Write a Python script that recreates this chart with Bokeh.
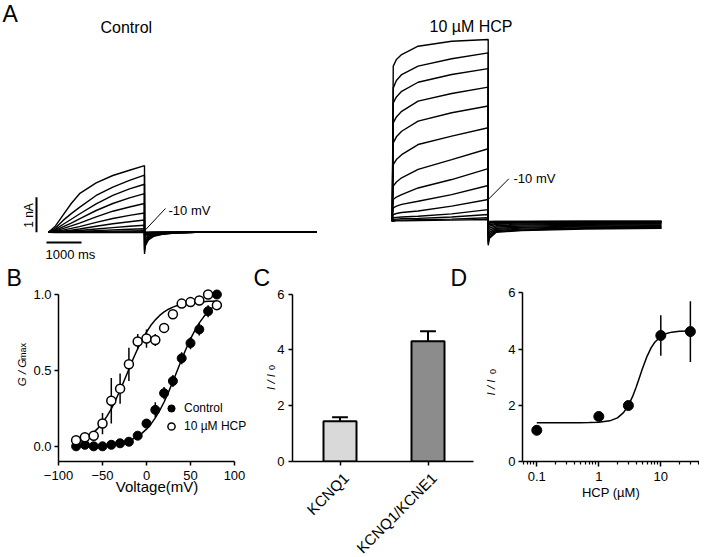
from math import pi
from bokeh.plotting import figure
from bokeh.layouts import column, row
from bokeh.models import Range1d, Label, Legend, LegendItem, FixedTicker, GridBox
from bokeh.core.properties import value
from bokeh.embed import file_html
from bokeh.resources import INLINE

FONT = "Liberation Sans"
O = 1  # page offset of the layout's top-left corner

# ---------------- Panel A : current traces (ms, nA) ----------------
ctrl_t = [0, 200, 410, 650, 886, 1362, 1838, 2314, 2743]
ctrl_traces = [
    [0, 0.18, 0.48, 0.82, 1.10, 1.41, 1.62, 1.77, 1.90],
    [0, 0.12, 0.33, 0.53, 0.71, 1.05, 1.29, 1.48, 1.63],
    [0, 0.08, 0.22, 0.37, 0.52, 0.81, 1.05, 1.24, 1.37],
    [0, 0.05, 0.15, 0.26, 0.38, 0.62, 0.82, 0.98, 1.10],
    [0, 0.03, 0.10, 0.18, 0.26, 0.44, 0.60, 0.72, 0.82],
    [0, 0.02, 0.06, 0.11, 0.16, 0.28, 0.39, 0.48, 0.55],
    [0, 0.01, 0.03, 0.06, 0.09, 0.17, 0.24, 0.30, 0.35],
    [0, 0.005, 0.02, 0.035, 0.05, 0.09, 0.13, 0.17, 0.20],
    [0, 0.0, 0.01, 0.018, 0.025, 0.045, 0.065, 0.085, 0.10],
    [0, 0.0, 0.0, 0.005, 0.01, 0.02, 0.03, 0.035, 0.04],
    [0, 0.0, 0.0, 0.0, 0.0, 0.005, 0.005, 0.01, 0.01],
    [0, -0.01, -0.01, -0.01, -0.01, -0.01, -0.01, -0.01, -0.01],
]
ctrl_tail_t = [0, 20, 110, 260, 510, 860, 1460, 4914]
ctrl_tail_shape = [1.0, 0.65, 0.36, 0.19, 0.10, 0.04, 0.0, 0.0]
ctrl_tail_peak = [0.62, 0.55, 0.48, 0.40, 0.30, 0.20, 0.13, 0.08, 0.04, 0.02, 0.01, 0.0]

hcp_t = [0, 30, 120, 270, 740, 1700, 2743]
hcp_traces = [
    [0, 4.43, 4.62, 4.76, 5.00, 5.14, 5.19],
    [0, 3.81, 4.02, 4.19, 4.43, 4.64, 4.81],
    [0, 3.38, 3.55, 3.71, 3.97, 4.19, 4.36],
    [0, 2.81, 2.98, 3.14, 3.43, 3.65, 3.83],
    [0, 2.24, 2.41, 2.57, 2.86, 3.10, 3.29],
    [0, 1.62, 1.76, 1.90, 2.19, 2.43, 2.67],
    [0, 1.00, 1.12, 1.24, 1.48, 1.76, 2.07],
    [0, 0.62, 0.69, 0.76, 0.95, 1.19, 1.50],
    [0, 0.38, 0.43, 0.48, 0.57, 0.76, 1.02],
    [0, 0.19, 0.22, 0.25, 0.29, 0.43, 0.62],
    [0, 0.10, 0.11, 0.12, 0.14, 0.21, 0.33],
    [0, 0.05, 0.06, 0.07, 0.08, 0.12, 0.19],
    [0, 0.02, 0.03, 0.03, 0.04, 0.06, 0.10],
    [0, 0.0, 0.01, 0.01, 0.02, 0.03, 0.05],
]
hcp_tail_t = [0, 30, 230, 960, 2760, 4951]
hcp_tail_shape = [1.0, 0.72, 0.46, 0.39, 0.32, 0.29]
hcp_tail_peak = [0.69, 0.64, 0.58, 0.51, 0.44, 0.36, 0.28, 0.20, 0.14, 0.08, 0.05, 0.03, 0.02, 0.01]

minus10_ctrl_index = 9
minus10_hcp_index = 9
scale_nA = 1.0
scale_ms = 1000

# ---------------- Panel B : G/Gmax vs voltage ----------------
volt = [-80, -70, -60, -50, -40, -30, -20, -10, 0, 10, 20, 30, 40, 50, 60, 70, 80]
g_ctrl = [0.00, 0.01, 0.00, 0.00, 0.01, 0.02, 0.03, 0.07, 0.15, 0.24, 0.35, 0.43, 0.58, 0.68, 0.77, 0.89, 1.00]
g_ctrl_err = [0.01, 0.01, 0.01, 0.01, 0.01, 0.01, 0.01, 0.01, 0.02, 0.05, 0.04, 0.04, 0.04, 0.04, 0.04, 0.04, 0.01]
g_hcp = [0.04, 0.06, 0.07, 0.15, 0.30, 0.38, 0.54, 0.69, 0.71, 0.70, 0.78, 0.87, 0.94, 0.95, 0.96, 1.00, 0.93]
g_hcp_err = [0.01, 0.02, 0.02, 0.07, 0.15, 0.10, 0.11, 0.05, 0.06, 0.04, 0.03, 0.01, 0.01, 0.01, 0.03, 0.01, 0.01]

fit_ctrl_v = [-80, -75, -70, -65, -60, -55, -50, -45, -40, -35, -30, -25, -20, -15, -10, -5, 0,
              5, 10, 15, 20, 25, 30, 35, 40, 45, 50, 55, 60, 65, 70, 75, 80]
fit_ctrl_g = [0.001, 0.002, 0.002, 0.003, 0.004, 0.005, 0.007, 0.009, 0.012, 0.016, 0.021, 0.028,
              0.038, 0.050, 0.066, 0.087, 0.113, 0.146, 0.187, 0.236, 0.292, 0.357, 0.427, 0.500,
              0.573, 0.643, 0.708, 0.764, 0.813, 0.853, 0.887, 0.914, 0.934]
fit_hcp_v = [-70, -65, -60, -55, -50, -45, -40, -35, -30, -25, -20, -15, -10, -5, 0, 5, 10, 15,
             20, 25, 30, 35, 40, 45, 50, 55, 60, 65, 70, 75, 80]
fit_hcp_g = [0.054, 0.071, 0.092, 0.120, 0.155, 0.197, 0.247, 0.305, 0.369, 0.438, 0.508, 0.578,
             0.643, 0.702, 0.753, 0.797, 0.833, 0.862, 0.885, 0.903, 0.917, 0.927, 0.936, 0.942,
             0.946, 0.949, 0.951, 0.953, 0.955, 0.956, 0.957]

# ---------------- Panel C : bars ----------------
c_labels = ["KCNQ1", "KCNQ1/KCNE1"]
c_vals = [1.44, 4.31]
c_err = [0.15, 0.36]
c_colors = ["#d9d9d9", "#8c8c8c"]

# ---------------- Panel D : concentration response ----------------
d_conc = [0.1, 1, 3, 10, 30]
d_vals = [1.11, 1.60, 1.99, 4.48, 4.62]
d_err = [0.04, 0.05, 0.05, 0.72, 1.08]
fit_d_x = [0.1, 0.2, 0.3, 0.5, 0.7, 1, 1.5, 2, 2.5, 3, 3.5, 4, 4.5, 5, 6, 7, 8, 10, 12, 15, 20, 30]
fit_d_y = [1.38, 1.38, 1.38, 1.381, 1.385, 1.396, 1.446, 1.553, 1.736, 1.99, 2.305, 2.64, 2.97,
           3.27, 3.74, 4.05, 4.24, 4.45, 4.54, 4.60, 4.63, 4.645]

# ---------------- outside-frame texts ----------------
panel_letters = ["B", "C", "D"]
ylab_main = ["G / G", "I / I", "I / I"]
ylab_sub = ["max", "0", "0"]


def style_axes(p, label_size="13px"):
    for ax in list(p.xaxis) + list(p.yaxis):
        ax.axis_line_width = 1.5
        ax.axis_line_color = "black"
        ax.major_tick_line_color = "black"
        ax.major_tick_line_width = 1.5
        ax.major_tick_out = 4
        ax.major_tick_in = 0
        ax.minor_tick_out = 0
        ax.minor_tick_in = 0
        ax.major_label_text_font = FONT
        ax.major_label_text_font_size = label_size
        ax.major_label_text_color = "black"
        ax.major_label_standoff = 3
        ax.axis_label_text_font = FONT
        ax.axis_label_text_font_size = "15px"
        ax.axis_label_text_font_style = "normal"
        ax.axis_label_text_color = "black"
        ax.axis_label_standoff = -5
    for ax in p.xaxis:
        ax.major_label_standoff = 5
    p.grid.visible = False
    p.outline_line_color = None


def lab(p, x, y, text, size, style="normal", angle=0, align="left", baseline="middle"):
    p.add_layout(Label(x=x, y=y, text=text, text_font=FONT, text_font_size=size,
                       text_font_style=style, angle=angle, text_align=align,
                       text_baseline=baseline, text_color="black"))


# ======================= Panel A =======================
PXMS = 0.035      # px per ms
PXNA = 35.0       # px per nA
T0_PAGE = 49.0
BASE_PAGE = 232.7
A_BOT = 266
RIGHT = 700
BOTTOM = 556
BC_SPLIT = 256
CD_SPLIT = 480


def ax_(px):
    return (px - T0_PAGE) / PXMS


def ay_(py):
    return (BASE_PAGE - py) / PXNA


HCP_DT = ax_(392.7)
HCP_DY = ay_(221.7)

pA = figure(width=RIGHT - O, height=A_BOT - O, x_range=Range1d(ax_(O), ax_(RIGHT)),
            y_range=Range1d(ay_(A_BOT), ay_(O)), output_backend="svg",
            toolbar_location=None, x_axis_location=None, y_axis_location=None,
            min_border_left=0, min_border_right=0, min_border_top=0, min_border_bottom=0,
            outline_line_color=None)
pA.grid.visible = False


def build(t_step, traces, tail_t, tail_shape, tail_peaks, t0, y0):
    xs, ys = [], []
    t_end = t_step[-1]
    for tr, pk in zip(traces, tail_peaks):
        xs.append([t0 + t for t in t_step] + [t0 + t_end + t for t in tail_t])
        ys.append([y0 + v for v in tr] + [y0 - pk * s for s in tail_shape])
    return xs, ys


xs, ys = build(ctrl_t, ctrl_traces, ctrl_tail_t, ctrl_tail_shape, ctrl_tail_peak, 0, 0)
pA.multi_line(xs, ys, line_color="black", line_width=1.4)
xs, ys = build(hcp_t, hcp_traces, hcp_tail_t, hcp_tail_shape, hcp_tail_peak, HCP_DT, HCP_DY)
pA.multi_line(xs, ys, line_color="black", line_width=1.4)

sb_x = ax_(37)
sb_y = ay_(243)
pA.segment(x0=[sb_x, ax_(47)], y0=[0, sb_y], x1=[sb_x, ax_(47) + scale_ms], y1=[scale_nA, sb_y],
           line_color="black", line_width=2)

c_end = (ctrl_t[-1], ctrl_traces[minus10_ctrl_index][-1])
h_end = (HCP_DT + hcp_t[-1], HCP_DY + hcp_traces[minus10_hcp_index][-1])
pA.segment(x0=[c_end[0], h_end[0]], y0=[c_end[1], h_end[1]],
           x1=[ax_(166), ax_(509.3)], y1=[ay_(209), ay_(179.3)], line_color="black", line_width=1)

lab(pA, ax_(3), ay_(14), "A", "23px")
lab(pA, ax_(101), ay_(27.5), "Control", "16px")
lab(pA, ax_(430), ay_(27), "10 µM HCP", "16px")
lab(pA, ax_(169), ay_(211), "-10 mV", "13px")
lab(pA, ax_(514), ay_(179), "-10 mV", "13px")
lab(pA, ax_(29), ay_(216), "1 nA", "12px", angle=pi / 2, align="center")
lab(pA, ax_(46), ay_(255), "1000 ms", "13px")

# ======================= Panel B =======================
RH = BOTTOM - A_BOT
FT = 284  # frame top (page)
pB = figure(width=BC_SPLIT - O, height=RH, x_range=Range1d(-100, 100 + (BC_SPLIT - 235) / 0.88),
            y_range=Range1d(-0.1, 1.0 + (295 - FT) / 151.8),
            output_backend="svg", toolbar_location=None,
            min_border_left=59 - O, min_border_right=0, min_border_top=FT - A_BOT,
            min_border_bottom=BOTTOM - 462)
style_axes(pB)
pB.xaxis.ticker = FixedTicker(ticks=[-100, -50, 0, 50, 100])
pB.yaxis.ticker = FixedTicker(ticks=[0, 0.5, 1.0])
pB.yaxis.major_label_overrides = {0: "0.0", 0.5: "0.5", 1: "1.0"}
pB.xaxis.bounds = (-100, 100)
pB.yaxis.bounds = (-0.1, 1.0)
pB.xaxis.axis_label = "Voltage(mV)"

pB.line(fit_ctrl_v, fit_ctrl_g, line_color="black", line_width=1.5)
pB.line(fit_hcp_v, fit_hcp_g, line_color="black", line_width=1.5)
pB.segment(x0=volt, x1=volt, y0=[g - e for g, e in zip(g_ctrl, g_ctrl_err)],
           y1=[g + e for g, e in zip(g_ctrl, g_ctrl_err)], line_color="black", line_width=1.5)
pB.segment(x0=volt, x1=volt, y0=[g - e for g, e in zip(g_hcp, g_hcp_err)],
           y1=[g + e for g, e in zip(g_hcp, g_hcp_err)], line_color="black", line_width=1.5)
r_ctrl = pB.scatter(volt, g_ctrl, size=9, marker="circle", fill_color="black", line_color="black")
r_hcp = pB.scatter(volt, g_hcp, size=9, marker="circle", fill_color="white", line_color="black",
                   line_width=1.5)
leg = Legend(items=[LegendItem(label="Control", renderers=[r_ctrl]),
                    LegendItem(label="10 µM HCP", renderers=[r_hcp])],
             location=(103, 26), orientation="vertical", border_line_color=None,
             background_fill_alpha=0, padding=0, margin=0, spacing=0, glyph_width=20,
             glyph_height=18, label_height=18, label_standoff=3, label_text_font=FONT,
             label_text_font_size="12px", label_text_color="black")
pB.add_layout(leg)

# ======================= Panel C =======================
pC = figure(width=CD_SPLIT - BC_SPLIT, height=RH, x_range=Range1d(1 - 47.5 / 88, 2 + 45.5 / 88),
            y_range=Range1d(0, 6 + (294.7 - FT) / 28.05),
            output_backend="svg", toolbar_location=None,
            min_border_left=293 - BC_SPLIT, min_border_right=6, min_border_top=FT - A_BOT,
            min_border_bottom=BOTTOM - 463)
style_axes(pC)
c_x = list(range(1, len(c_labels) + 1))
# category ticks drawn as (label-less) minor ticks; the rotated names are drawn in the overlay
pC.xaxis.ticker = FixedTicker(ticks=[], minor_ticks=c_x)
pC.xaxis.minor_tick_out = 4
pC.xaxis.minor_tick_line_color = "black"
pC.xaxis.minor_tick_line_width = 1.5
pC.yaxis.ticker = FixedTicker(ticks=[0, 2, 4, 6])
pC.yaxis.bounds = (0, 6)
pC.yaxis.major_label_standoff = 4
c_top = [v + e for v, e in zip(c_vals, c_err)]
pC.segment(x0=c_x, x1=c_x, y0=c_vals, y1=c_top, line_color="black", line_width=2)
pC.segment(x0=[x - 0.09 for x in c_x], x1=[x + 0.09 for x in c_x], y0=c_top, y1=c_top,
           line_color="black", line_width=2)
pC.vbar(x=c_x, top=c_vals, bottom=0, width=0.375, fill_color=c_colors, line_color="black",
        line_width=2)

# ======================= Panel D =======================
pD = figure(width=RIGHT - CD_SPLIT, height=RH, x_axis_type="log",
            x_range=Range1d(0.1 * 10 ** ((523 - 537.3) / 62.0), 0.1 * 10 ** ((RIGHT - 537.3) / 62.0)),
            y_range=Range1d(0, 6 + (293.3 - FT) / 28.17), output_backend="svg",
            toolbar_location=None, min_border_left=523 - CD_SPLIT, min_border_right=0,
            min_border_top=FT - A_BOT, min_border_bottom=BOTTOM - 462)
style_axes(pD)
minor = [0.06, 0.07, 0.08, 0.09] + [k / 10 for k in range(2, 10)] + list(range(2, 10)) + [20, 30, 40]
pD.xaxis.ticker = FixedTicker(ticks=[0.1, 1, 10], minor_ticks=minor)
pD.xaxis.major_label_overrides = {0.1: "0.1", 1: "1", 10: "10"}
pD.xaxis.major_tick_out = 5
pD.xaxis.minor_tick_out = 3
pD.xaxis.minor_tick_line_color = "black"
pD.xaxis.minor_tick_line_width = 1.2
pD.yaxis.ticker = FixedTicker(ticks=[0, 2, 4, 6])
pD.yaxis.bounds = (0, 6)
pD.xaxis.axis_label = "HCP (µM)"
pD.xaxis.axis_label_text_font_size = "13px"
pD.xaxis.axis_label_standoff = 1
pD.line(fit_d_x, fit_d_y, line_color="black", line_width=1.5)
pD.segment(x0=d_conc, x1=d_conc, y0=[v - e for v, e in zip(d_vals, d_err)],
           y1=[v + e for v, e in zip(d_vals, d_err)], line_color="black", line_width=1.5)
pD.scatter(d_conc, d_vals, size=10, marker="circle", fill_color="black", line_color="black")

# ======================= overlay for texts outside the frames =======================
ov = figure(width=RIGHT - O, height=BOTTOM - O, x_range=Range1d(O, RIGHT),
            y_range=Range1d(BOTTOM, O), output_backend="svg", toolbar_location=None,
            x_axis_location=None, y_axis_location=None, min_border_left=0,
            min_border_right=0, min_border_top=0, min_border_bottom=0,
            outline_line_color=None, background_fill_color=None, border_fill_color=None)
ov.grid.visible = False
ov.text(x=[7, 254, 451], y=[278, 278, 278], text=panel_letters, text_font=value(FONT),
        text_font_size="23px", text_color="black", text_align="left", text_baseline="middle")
ov.text(x=[22, 271, 491.7], y=[373, 382.5, 388], text=ylab_main, text_font=value(FONT),
        text_font_size="11.5px", text_font_style="italic", text_color="black", angle=pi / 2,
        text_align="center", text_baseline="middle")
ov.text(x=[23.5, 272.5, 493], y=[352, 368, 372], text=ylab_sub, text_font=value(FONT),
        text_font_size="9px", text_color="black", angle=pi / 2,
        text_align="center", text_baseline="middle")
# category tick labels of panel C (rotated 45 degrees, ending under each tick)
c_tick_page = [340.5 + (x - 1) * 88 for x in c_x]
ov.text(x=[t + 6 for t in c_tick_page], y=[476] * len(c_x), text=c_labels,
        text_font=value(FONT), text_font_size="15px", text_color="black", angle=pi / 4,
        text_align="right", text_baseline="middle")

main = column(pA, row(pB, pC, pD, spacing=0), spacing=0)
layout = GridBox(children=[(main, 0, 0), (ov, 0, 0)])
open("out.html", "w").write(file_html(layout, INLINE))
